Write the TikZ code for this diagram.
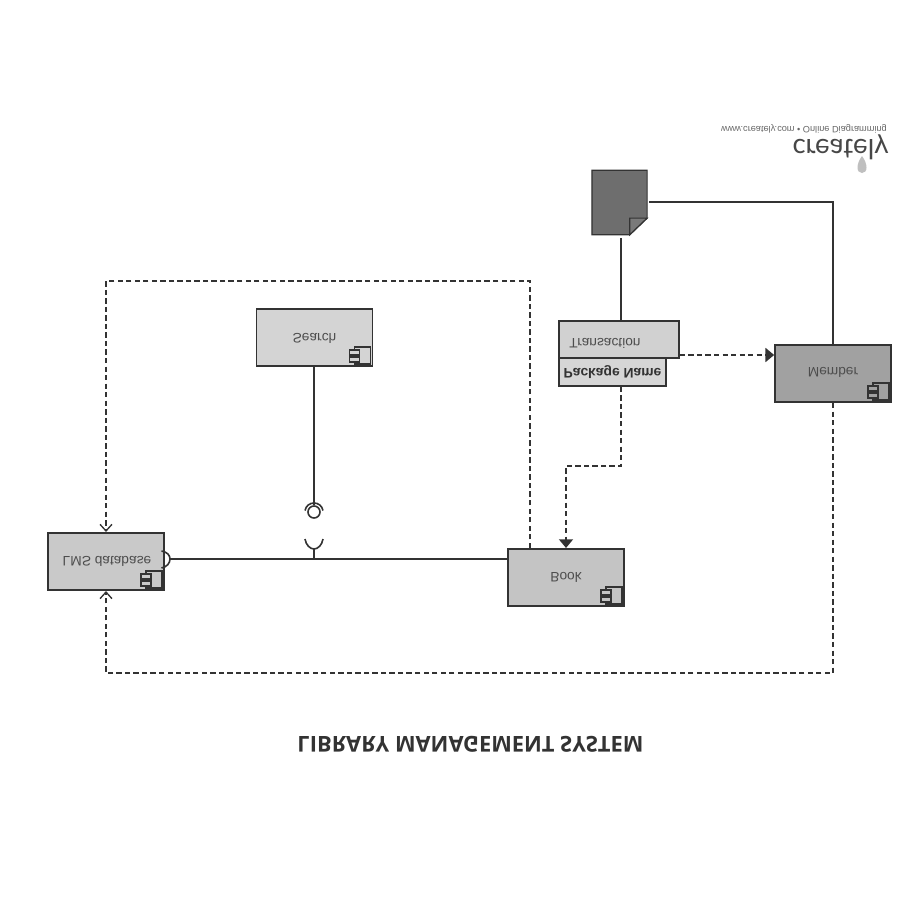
\documentclass[tikz,border=0pt]{standalone}
\usepackage{fontspec}
\setmainfont{Liberation Sans}
\newfontfamily\titlefont{Open Sans}
\newfontfamily\logofont{Lato}
\usetikzlibrary{arrows.meta}
\definecolor{ln}{HTML}{333333}
\definecolor{lab}{HTML}{4D4D4D}
\tikzset{
  flip/.style={yscale=-1,transform shape,inner sep=0pt},
  boxn/.style={draw=ln,line width=1.3pt,minimum width=87pt,minimum height=43pt,inner sep=0pt,anchor=center},
  solidl/.style={draw=ln,line width=1.2pt},
  dashl/.style={draw=ln,line width=1.2pt,dash pattern=on 4pt off 2.4pt},
  openhead/.style={-{Straight Barb[length=5pt,width=9pt,line width=1pt]}},
  fillhead/.style={-{Triangle[length=6.5pt,width=10.5pt,fill=ln]}},
  lbl/.style={flip,text=lab,font=\fontsize{10.3}{12}\selectfont},
}
\newcommand{\compicon}[2]{%
  \begin{scope}[shift={(#1.south east)}]
    \draw[draw=ln,line width=.95pt,fill=#2] (-19,-20) rectangle (-3,-3);
    \draw[draw=ln,line width=.95pt,fill=#2] (-24,-17) rectangle (-14,-12);
    \draw[draw=ln,line width=.95pt,fill=#2] (-24,-10) rectangle (-14,-5);
  \end{scope}}
\begin{document}
\begin{tikzpicture}[x=0.75pt,y=-0.75pt]
\useasboundingbox (0,0) rectangle (900,899);
\fill[white] (0,0) rectangle (900,899);
% boxes
\node[boxn,fill=black!17] (search) at (314.5,337.5) {};
\node[boxn,fill=black!21] (lms) at (106,561.5) {};
\node[boxn,fill=black!23] (book) at (566,577.5) {};
\node[boxn,fill=black!37] (member) at (833,373.5) {};
\node[draw=ln,line width=1.3pt,fill=black!16,minimum width=80pt,minimum height=21pt,inner sep=0pt] (pkg) at (612.5,372) {};
\node[draw=ln,line width=1.3pt,fill=black!18,minimum width=90pt,minimum height=28pt,inner sep=0pt] (trans) at (619,339.5) {};
\node[minimum width=41pt,minimum height=48pt,inner sep=0pt] (doc) at (619.5,202.5) {};
% document shape
\draw[draw=ln,line width=.9pt,fill=black!57] (doc.north west) -- (doc.north east) -- ([yshift=12.5pt]doc.south east) -- ([xshift=-13pt]doc.south east) -- (doc.south west) -- cycle;
\draw[draw=ln,line width=.9pt,fill=black!52] ([yshift=12.5pt]doc.south east) -- ([xshift=-13pt,yshift=12.5pt]doc.south east) -- ([xshift=-13pt]doc.south east) -- cycle;
% icons
\compicon{search}{black!17}
\compicon{lms}{black!21}
\compicon{book}{black!23}
\compicon{member}{black!37}
% labels
\node[lbl] (tsearch) at (314.5,338) {Search};
\node[lbl] (tlms) at (107,561) {LMS database};
\node[lbl] (tbook) at (566,577) {Book};
\node[lbl] (tmember) at (833,372) {Member};
\node[lbl,anchor=center] (ttrans) at (605,343) {Transaction};
\node[flip,text=ln,font=\bfseries\fontsize{10.4}{12}\selectfont] (tpkg) at (612.5,372) {Package Name};
\node[flip,text=ln,font=\titlefont\bfseries\fontsize{16.4}{19}\selectfont] (title) at (470.5,744) {LIBRARY MANAGEMENT SYSTEM};
% logo
\node[flip,text=black!60,font=\fontsize{6.9}{8}\selectfont] (logourl) at (804,128.5) {www.creately.com • Online Diagramming};
\node[flip,text=black!72,font=\logofont\fontsize{20.7}{22}\selectfont] (logo) at (840.5,147) {creately};
\path[fill=black!25] (862,156) .. controls (856,164) and (856,173) .. (862,173) .. controls (868,173) and (868,164) .. (862,156) -- cycle;
% interface symbols
\coordinate (ball) at (314,512);
\node[circle,draw=ln,line width=1.2pt,minimum size=9pt,inner sep=0pt] (ballc) at (ball) {};
\coordinate (junction) at (314,559);
\coordinate (cupb) at (314,549);
\draw[solidl] (ballc.north |- search.south) -- (ballc.north);
\draw[solidl] (305,510.5) .. controls (306,505.5) and (310,503) .. (314,503) .. controls (318,503) and (322,505.5) .. (323,510.5);
\draw[solidl] (305,539) .. controls (306,545) and (310,549) .. (314,549) .. controls (318,549) and (322,545) .. (323,539);
\draw[solidl] (cupb) -- (junction);
\coordinate (lmssock) at (170,559);
\draw[solidl] (161.5,551) .. controls (167,552) and (170,555) .. (lmssock) .. controls (170,563) and (167,567) .. (161.5,568);
\draw[solidl] (lmssock) -- (lmssock -| book.west);
% doc connectors
\draw[solidl,shorten <=3pt] (621,234) coordinate (docb) -- (docb |- trans.north);
\coordinate (mt) at (833,202);
\draw[solidl,shorten <=1.5pt] (doc.east |- mt) -- (mt) -- (member.north);
% dashed
\coordinate (bk) at (530,281);
\coordinate (tl) at (106,281);
\draw[dashl,openhead] (bk |- book.north) -- (bk) -- (tl) -- (lms.north);
\coordinate (br) at (833,673);
\coordinate (bl) at (106,673);
\draw[dashl,openhead] (member.south) -- (br) -- (bl) -- (lms.south);
\coordinate (p1) at (621,466);
\coordinate (p2) at (566,466);
\draw[dashl,fillhead] (p1 |- pkg.south) -- (p1) -- (p2) -- (book.north);
\draw[dashl,fillhead] (trans.east |- 0,355) -- (member.west |- 0,355);
\end{tikzpicture}
\end{document}
